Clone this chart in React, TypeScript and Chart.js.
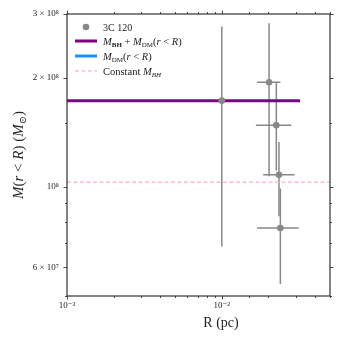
import React, { useEffect, useRef } from "react";
import { Chart, registerables } from "chart.js";
Chart.register(...registerables);

// Observed enclosed mass of 3C 120
const R_PC = [0.01, 0.0202, 0.0225, 0.0234, 0.0239];
const M_OBS = [1.73e8, 1.945e8, 1.48e8, 1.08e8, 7.7e7];
const R_LO = [0.01, 0.0169, 0.0166, 0.0185, 0.0169];
const R_HI = [0.01, 0.0239, 0.0281, 0.0295, 0.0313];
const M_LO = [6.85e7, 1.07e8, 1.11e8, 8.3e7, 5.4e7];
const M_HI = [2.77e8, 2.83e8, 1.94e8, 1.33e8, 9.9e7];

// Model curves
const TOTAL_R = [0.001, 0.032];
const TOTAL_M = [1.73e8, 1.73e8];
const DM_R: number[] = [];
const DM_M: number[] = [];
const CONST_R = [0.001, 0.05];
const CONST_M = [1.03e8, 1.03e8];

const X_MIN = 0.001;
const X_MAX = 0.05;
const Y_MIN = 5e7;
const Y_MAX = 3e8;

const X_TICK_VALUES = [0.001, 0.01];
const X_TICK_TEXT = ["10⁻³", "10⁻²"];
const Y_TICK_VALUES = [6e7, 1e8, 2e8, 3e8];
const Y_TICK_TEXT = ["6 × 10⁷", "10⁸", "2 × 10⁸", "3 × 10⁸"];

const FAMILY = '"Liberation Serif", "DejaVu Serif", serif';
const GRAY = "#888888";
const PURPLE = "#800080";
const BLUE = "#1e90ff";
const PINK = "#ffc0cb";
const FRAME = "#333333";

type Seg = { t: string; style?: string; size: number; dy?: number };

function richWidth(ctx: CanvasRenderingContext2D, segs: Seg[]) {
  let w = 0;
  for (const s of segs) {
    ctx.font = `${s.style || "normal"} ${s.size}px ${FAMILY}`;
    w += ctx.measureText(s.t).width;
  }
  return w;
}

function drawRich(ctx: CanvasRenderingContext2D, segs: Seg[], x: number, y: number, align: "left" | "center") {
  const w = richWidth(ctx, segs);
  let cx = align === "center" ? x - w / 2 : x;
  ctx.textBaseline = "alphabetic";
  ctx.textAlign = "left";
  for (const s of segs) {
    ctx.font = `${s.style || "normal"} ${s.size}px ${FAMILY}`;
    ctx.fillText(s.t, cx, y + (s.dy || 0));
    cx += ctx.measureText(s.t).width;
  }
}

function labelFor(values: number[], texts: string[], v: number) {
  for (let i = 0; i < values.length; i++) {
    if (Math.abs(v - values[i]) / values[i] < 1e-6) return texts[i];
  }
  return "";
}

const decorPlugin = {
  id: "decor",
  beforeDatasetsDraw(chart: any) {
    const { ctx, chartArea, scales } = chart;
    const xs = scales.x;
    const ys = scales.y;
    ctx.save();
    ctx.beginPath();
    ctx.rect(chartArea.left, chartArea.top, chartArea.right - chartArea.left, chartArea.bottom - chartArea.top);
    ctx.clip();
    ctx.strokeStyle = GRAY;
    ctx.lineWidth = 1.5;
    for (let i = 0; i < R_PC.length; i++) {
      const px = xs.getPixelForValue(R_PC[i]);
      const py = ys.getPixelForValue(M_OBS[i]);
      ctx.beginPath();
      ctx.moveTo(px, ys.getPixelForValue(M_LO[i]));
      ctx.lineTo(px, ys.getPixelForValue(M_HI[i]));
      if (R_HI[i] > R_LO[i]) {
        ctx.moveTo(xs.getPixelForValue(R_LO[i]), py);
        ctx.lineTo(xs.getPixelForValue(R_HI[i]), py);
      }
      ctx.stroke();
    }
    ctx.restore();
  },
  afterDraw(chart: any) {
    const { ctx, chartArea, scales } = chart;
    const xs = scales.x;
    const ys = scales.y;
    const { left, right, top, bottom } = chartArea;
    ctx.save();
    // frame
    ctx.strokeStyle = FRAME;
    ctx.lineWidth = 1.2;
    ctx.strokeRect(left, top, right - left, bottom - top);
    // ticks on all four sides
    ctx.lineWidth = 0.9;
    ctx.beginPath();
    for (const t of xs.ticks) {
      const v = t.value;
      if (v < X_MIN * 0.999 || v > X_MAX * 1.001) continue;
      const px = Math.round(xs.getPixelForValue(v)) + 0.5;
      const major = labelFor(X_TICK_VALUES, X_TICK_TEXT, v) !== "";
      const len = major ? 3.5 : 2;
      ctx.moveTo(px, bottom);
      ctx.lineTo(px, bottom + len);
      ctx.moveTo(px, top);
      ctx.lineTo(px, top - len);
    }
    for (const t of ys.ticks) {
      const v = t.value;
      if (v < Y_MIN * 0.999 || v > Y_MAX * 1.001) continue;
      const py = Math.round(ys.getPixelForValue(v)) + 0.5;
      const major = labelFor(Y_TICK_VALUES, Y_TICK_TEXT, v) !== "";
      const len = major ? 3.5 : 2;
      ctx.moveTo(left, py);
      ctx.lineTo(left - len, py);
      ctx.moveTo(right, py);
      ctx.lineTo(right + len, py);
    }
    ctx.stroke();

    // axis titles
    ctx.fillStyle = "#222";
    drawRich(ctx, [{ t: "R (pc)", size: 14 }], 221, 327, "center");
    ctx.save();
    ctx.translate(23, 155);
    ctx.rotate(-Math.PI / 2);
    drawRich(
      ctx,
      [
        { t: "M", style: "italic", size: 15 },
        { t: "(", size: 15 },
        { t: "r", style: "italic", size: 15 },
        { t: " < ", size: 15 },
        { t: "R", style: "italic", size: 15 },
        { t: ") (", size: 15 },
        { t: "M", style: "italic", size: 15 },
        { t: "⊙", size: 10, dy: 3 },
        { t: ")", size: 15 },
      ],
      0,
      0,
      "center"
    );
    ctx.restore();

    // legend
    const lx0 = 75;
    const lx1 = 97;
    const tx = 103;
    ctx.fillStyle = GRAY;
    ctx.beginPath();
    ctx.arc(86, 27, 3.3, 0, Math.PI * 2);
    ctx.fill();
    ctx.fillStyle = "#222";
    drawRich(ctx, [{ t: "3C 120", size: 10 }], tx, 30.5, "left");
    ctx.strokeStyle = PURPLE;
    ctx.lineWidth = 3;
    ctx.beginPath();
    ctx.moveTo(lx0, 41);
    ctx.lineTo(lx1, 41);
    ctx.stroke();
    drawRich(
      ctx,
      [
        { t: "M", style: "italic", size: 10.5 },
        { t: "BH", style: "bold", size: 7, dy: 2 },
        { t: " + ", size: 10.5 },
        { t: "M", style: "italic", size: 10.5 },
        { t: "DM", size: 7, dy: 2 },
        { t: "(", size: 10.5 },
        { t: "r", style: "italic", size: 10.5 },
        { t: " < ", size: 10.5 },
        { t: "R", style: "italic", size: 10.5 },
        { t: ")", size: 10.5 },
      ],
      tx,
      44.5,
      "left"
    );
    ctx.strokeStyle = BLUE;
    ctx.beginPath();
    ctx.moveTo(lx0, 56);
    ctx.lineTo(lx1, 56);
    ctx.stroke();
    drawRich(
      ctx,
      [
        { t: "M", style: "italic", size: 10.5 },
        { t: "DM", size: 7, dy: 2 },
        { t: "(", size: 10.5 },
        { t: "r", style: "italic", size: 10.5 },
        { t: " < ", size: 10.5 },
        { t: "R", style: "italic", size: 10.5 },
        { t: ")", size: 10.5 },
      ],
      tx,
      59.5,
      "left"
    );
    ctx.strokeStyle = PINK;
    ctx.lineWidth = 1.5;
    ctx.setLineDash([4, 2.5]);
    ctx.beginPath();
    ctx.moveTo(lx0, 71);
    ctx.lineTo(lx1, 71);
    ctx.stroke();
    ctx.setLineDash([]);
    drawRich(
      ctx,
      [
        { t: "Constant ", size: 10.5 },
        { t: "M", style: "italic", size: 10.5 },
        { t: "BH", style: "italic", size: 7, dy: 2 },
      ],
      tx,
      74.5,
      "left"
    );
    ctx.restore();
  },
};

export default function App() {
  const ref = useRef<HTMLCanvasElement | null>(null);

  useEffect(() => {
    document.body.style.margin = "0";
    const canvas = ref.current;
    if (!canvas) return;
    const toPts = (xs: number[], ys: number[]) => xs.map((x, i) => ({ x, y: ys[i] }));
    const chart = new Chart(canvas, {
      type: "scatter",
      data: {
        datasets: [
          {
            label: "3C 120",
            data: toPts(R_PC, M_OBS),
            backgroundColor: GRAY,
            borderColor: GRAY,
            pointRadius: 3.3,
            pointBorderWidth: 0,
            order: 0,
          },
          {
            label: "M_BH + M_DM(r < R)",
            data: toPts(TOTAL_R, TOTAL_M),
            showLine: true,
            borderColor: PURPLE,
            borderWidth: 3,
            pointRadius: 0,
            order: 1,
          },
          {
            label: "M_DM(r < R)",
            data: toPts(DM_R, DM_M),
            showLine: true,
            borderColor: BLUE,
            borderWidth: 3,
            pointRadius: 0,
            order: 2,
          },
          {
            label: "Constant M_BH",
            data: toPts(CONST_R, CONST_M),
            showLine: true,
            borderColor: PINK,
            borderWidth: 1.5,
            borderDash: [4, 2.5],
            pointRadius: 0,
            order: 3,
          },
        ],
      } as any,
      options: {
        animation: false,
        responsive: true,
        maintainAspectRatio: false,
        layout: { padding: { top: 14, right: 13, left: 0, bottom: 0 } },
        plugins: { legend: { display: false }, tooltip: { enabled: false } },
        scales: {
          x: {
            type: "logarithmic",
            min: X_MIN,
            max: X_MAX,
            grid: { display: false, drawTicks: false, tickLength: 0 },
            border: { display: false },
            afterFit: (s: any) => {
              s.height = 47;
            },
            ticks: {
              autoSkip: false,
              maxRotation: 0,
              padding: 4,
              color: "#222",
              font: { family: FAMILY, size: 9 },
              callback: (v: any) => labelFor(X_TICK_VALUES, X_TICK_TEXT, Number(v)),
            },
          },
          y: {
            type: "logarithmic",
            min: Y_MIN,
            max: Y_MAX,
            grid: { display: false, drawTicks: false, tickLength: 0 },
            border: { display: false },
            afterFit: (s: any) => {
              s.width = 67;
            },
            ticks: {
              autoSkip: false,
              padding: 8,
              color: "#222",
              font: { family: FAMILY, size: 9 },
              callback: (v: any) => labelFor(Y_TICK_VALUES, Y_TICK_TEXT, Number(v)),
            },
          },
        },
      } as any,
      plugins: [decorPlugin],
    });
    return () => chart.destroy();
  }, []);

  return (
    <div style={{ width: 343, height: 343, position: "relative", background: "#fff" }}>
      <canvas ref={ref} />
    </div>
  );
}
